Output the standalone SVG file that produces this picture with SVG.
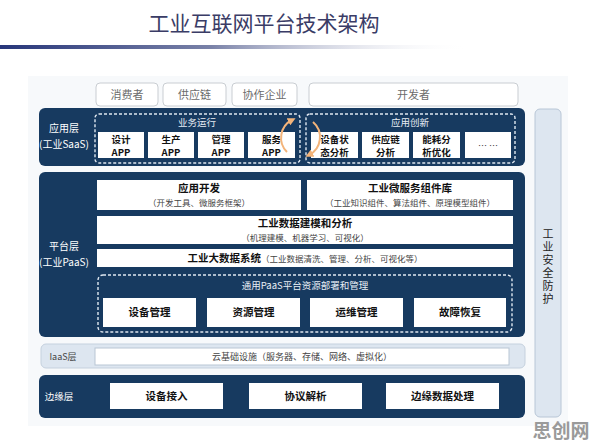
<svg xmlns="http://www.w3.org/2000/svg" width="596" height="446" viewBox="0 0 596 446">
<defs>
<linearGradient id="hl" x1="0" y1="0" x2="1" y2="0">
<stop offset="0" stop-color="#27367a"/>
<stop offset="0.45" stop-color="#7a82a8"/>
<stop offset="1" stop-color="#ffffff" stop-opacity="0"/>
</linearGradient>
<marker id="ah" viewBox="0 0 10 10" refX="5" refY="5" markerWidth="4" markerHeight="4" orient="auto">
<path d="M0,0 L10,5 L0,10 z" fill="#f3b47a"/>
</marker>
<style>
text{font-family:"Noto Sans CJK SC","Liberation Sans",sans-serif;}
.dark{fill:#173a60;}
.wb{fill:#ffffff;}
.dash{fill:none;stroke:#dfe7f0;stroke-width:1.4;stroke-dasharray:3 2;}
.top{fill:#ffffff;stroke:#c9cdd2;stroke-width:1;}
.tt{font-size:11px;fill:#6b6b6b;text-anchor:middle;}
.lbl{font-size:10px;fill:#ffffff;text-anchor:middle;}
.bt{font-size:10.5px;font-weight:bold;fill:#111;text-anchor:middle;}
.at{font-size:9.5px;font-weight:bold;fill:#111;text-anchor:middle;}
.st{font-size:8.5px;fill:#444;text-anchor:middle;}
.ht{font-size:9.5px;fill:#e8eef5;text-anchor:middle;}
</style>
</defs>
<rect width="596" height="446" fill="#ffffff"/>
<g id="title">
<text x="264" y="31" font-size="21" fill="#3a3c66" text-anchor="middle">工业互联网平台技术架构</text>
<rect x="0" y="45" width="470" height="4" fill="url(#hl)"/>
</g>
<rect x="28" y="76" width="540" height="350" fill="#f7f9fb"/>
<g id="users">
<rect class="top" x="96" y="83" width="62" height="23" rx="4"/><text class="tt" x="127" y="98.5">消费者</text>
<rect class="top" x="163" y="83" width="63" height="23" rx="4"/><text class="tt" x="194.5" y="98.5">供应链</text>
<rect class="top" x="232" y="83" width="65" height="23" rx="4"/><text class="tt" x="264.5" y="98.5">协作企业</text>
<rect class="top" x="309" y="83" width="209" height="23" rx="4"/><text class="tt" x="413.5" y="98.5">开发者</text>
</g>
<g id="saas">
<rect class="dark" x="39" y="108" width="486" height="58" rx="6"/>
<text class="lbl" x="64" y="132">应用层</text>
<text class="lbl" x="64" y="147.5">(工业SaaS)</text>
<rect class="dash" x="95" y="114" width="205" height="49" rx="4"/>
<text class="ht" x="197" y="126">业务运行</text>
<rect class="dash" x="306" y="114" width="209" height="49" rx="4"/>
<text class="ht" x="410" y="126">应用创新</text>
<rect class="wb" x="98" y="132" width="46" height="26"/>
<text class="at" x="121" y="142.5">设计</text><text class="at" x="121" y="156">APP</text>
<rect class="wb" x="148" y="132" width="46" height="26"/>
<text class="at" x="171" y="142.5">生产</text><text class="at" x="171" y="156">APP</text>
<rect class="wb" x="198" y="132" width="46" height="26"/>
<text class="at" x="221" y="142.5">管理</text><text class="at" x="221" y="156">APP</text>
<rect class="wb" x="248" y="132" width="47" height="26"/>
<text class="at" x="271.5" y="142.5">服务</text><text class="at" x="271.5" y="156">APP</text>
<rect class="wb" x="311" y="132" width="47" height="26"/>
<text class="at" x="334.5" y="142.5">设备状</text><text class="at" x="334.5" y="156">态分析</text>
<rect class="wb" x="362" y="132" width="47" height="26"/>
<text class="at" x="385.5" y="142.5">供应链</text><text class="at" x="385.5" y="156">分析</text>
<rect class="wb" x="413" y="132" width="47" height="26"/>
<text class="at" x="436.5" y="142.5">能耗分</text><text class="at" x="436.5" y="156">析优化</text>
<rect class="wb" x="465" y="132" width="46" height="26"/>
<text x="488" y="149" font-size="9" fill="#333" text-anchor="middle">… …</text>
</g>
<g id="cycle">
<path d="M287,152 A20,20 0 0 1 292,120" fill="none" stroke="#f3b47a" stroke-width="2" marker-end="url(#ah)"/>
<path d="M313,122 A20,20 0 0 1 309,155" fill="none" stroke="#f3b47a" stroke-width="2" marker-end="url(#ah)"/>
</g>
<g id="paas">
<rect class="dark" x="39" y="172" width="486" height="165" rx="6"/>
<text class="lbl" x="64" y="250">平台层</text>
<text class="lbl" x="64" y="265.5">(工业PaaS)</text>
<rect class="wb" x="97" y="180" width="204" height="30"/>
<text class="bt" x="199" y="192">应用开发</text>
<text class="st" x="199" y="205.5">（开发工具、微服务框架）</text>
<rect class="wb" x="307" y="180" width="206" height="30"/>
<text class="bt" x="410" y="192">工业微服务组件库</text>
<text class="st" x="410" y="205.5">（工业知识组件、算法组件、原理模型组件）</text>
<rect class="wb" x="97" y="216" width="416" height="28"/>
<text class="bt" x="305" y="227">工业数据建模和分析</text>
<text class="st" x="305" y="240.5">（机理建模、机器学习、可视化）</text>
<rect class="wb" x="97" y="249" width="416" height="18"/>
<text x="305" y="262" text-anchor="middle"><tspan font-size="10.5" font-weight="bold" fill="#111">工业大数据系统</tspan><tspan font-size="8.5" fill="#444">（工业数据清洗、管理、分析、可视化等）</tspan></text>
<rect class="dash" x="98" y="275" width="414" height="57" rx="5"/>
<text class="ht" x="305" y="289">通用PaaS平台资源部署和管理</text>
<rect class="wb" x="103" y="298" width="93" height="29"/><text class="bt" x="149.5" y="316">设备管理</text>
<rect class="wb" x="207" y="298" width="93" height="29"/><text class="bt" x="253.5" y="316">资源管理</text>
<rect class="wb" x="310" y="298" width="93" height="29"/><text class="bt" x="356.5" y="316">运维管理</text>
<rect class="wb" x="414" y="298" width="92" height="29"/><text class="bt" x="460" y="316">故障恢复</text>
</g>
<g id="iaas">
<rect x="41" y="344" width="484" height="24" rx="5" fill="#dde6f0" stroke="#c5d1de"/>
<text x="63" y="360" font-size="9" fill="#444" text-anchor="middle">IaaS层</text>
<rect x="95" y="348" width="414" height="17" fill="#ffffff" stroke="#b9c6d4"/>
<text x="302" y="360" font-size="9" fill="#444" text-anchor="middle">云基础设施（服务器、存储、网络、虚拟化）</text>
</g>
<g id="edge">
<rect class="dark" x="39" y="375" width="486" height="43" rx="6"/>
<text x="59" y="400" font-size="9.5" fill="#ffffff" text-anchor="middle">边缘层</text>
<rect class="wb" x="110" y="383" width="113" height="26"/><text class="bt" x="166.5" y="400">设备接入</text>
<rect class="wb" x="249" y="383" width="113" height="26"/><text class="bt" x="305.5" y="400">协议解析</text>
<rect class="wb" x="386" y="383" width="113" height="26"/><text class="bt" x="442.5" y="400">边缘数据处理</text>
</g>
<g id="security">
<rect x="535" y="109" width="26" height="308" rx="5" fill="#dde6f0" stroke="#b8c6d6"/>
<text x="548" y="228" font-size="11" fill="#222" writing-mode="vertical-rl" letter-spacing="2">工业安全防护</text>
</g>
<text x="561" y="438" font-size="19" font-weight="bold" fill="#9a9a9a" text-anchor="middle">思创网</text>
</svg>
